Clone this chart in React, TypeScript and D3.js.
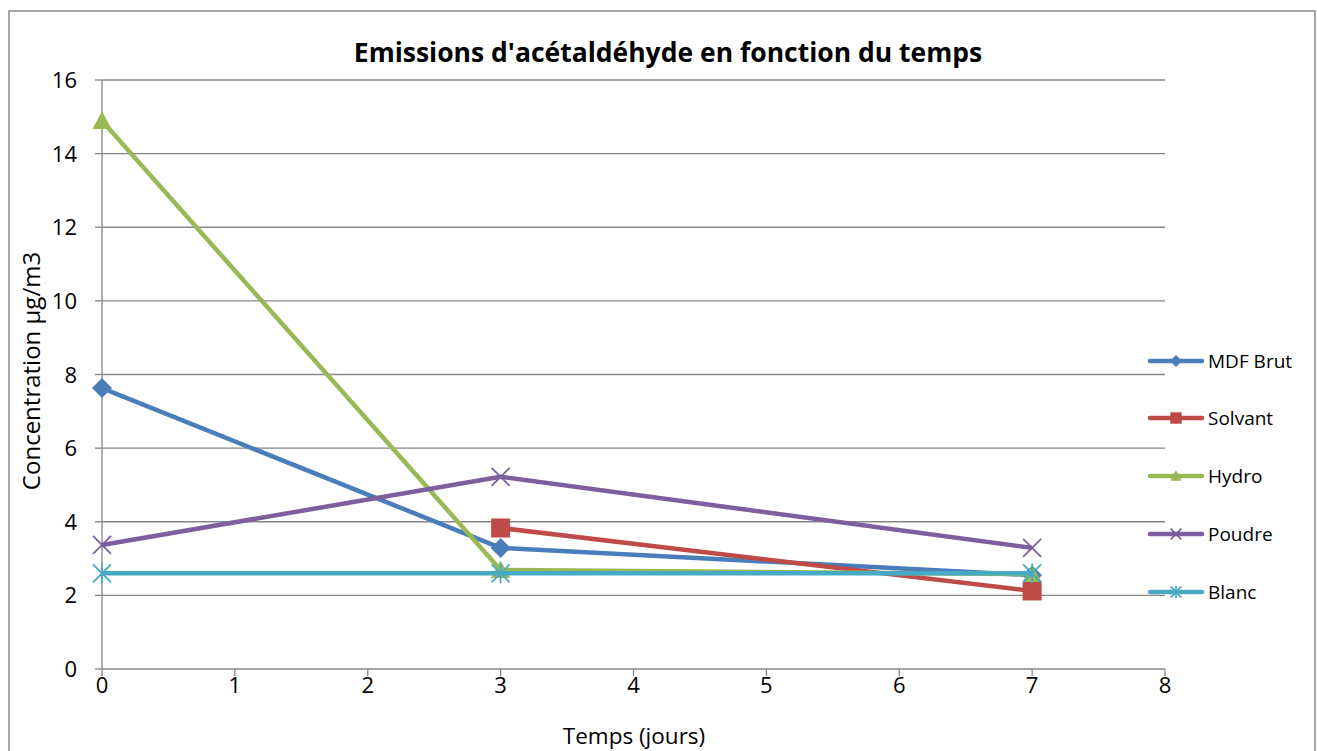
import React from "react";
import * as d3 from "d3";

const days = [0, 3, 7];
const seriesNames = ["MDF Brut", "Solvant", "Hydro", "Poudre", "Blanc"];
const mdfBrut: (number | null)[] = [7.63, 3.29, 2.55];
const solvant: (number | null)[] = [null, 3.83, 2.12];
const hydro: (number | null)[] = [14.89, 2.69, 2.58];
const poudre: (number | null)[] = [3.37, 5.22, 3.29];
const blanc: (number | null)[] = [2.6, 2.6, 2.6];
const xTicks = [0, 1, 2, 3, 4, 5, 6, 7, 8];
const yTicks = [0, 2, 4, 6, 8, 10, 12, 14, 16];

const colors = ["#4a7ebb", "#be4b48", "#98b954", "#7d5fa0", "#46aac5"];
const markers = ["diamond", "square", "triangle", "x", "star"];
const values = [mdfBrut, solvant, hydro, poudre, blanc];

const W = 1317, H = 751;
const FONT = "'Open Sans', 'Liberation Sans', sans-serif";

function Marker({ type, x, y, color, s = 1 }: { type: string; x: number; y: number; color: string; s?: number }) {
  if (type === "diamond") {
    const r = 10 * s;
    return <path d={`M${x},${y - r}L${x + r},${y}L${x},${y + r}L${x - r},${y}Z`} fill={color} />;
  }
  if (type === "square") {
    const r = 9.5 * s;
    return <rect x={x - r} y={y - r} width={2 * r} height={2 * r} fill={color} />;
  }
  if (type === "triangle") {
    const r = 9.5 * s;
    return <path d={`M${x},${y - r}L${x + r},${y + r * 0.85}L${x - r},${y + r * 0.85}Z`} fill={color} />;
  }
  if (type === "x") {
    const r = 9 * s;
    return (
      <path d={`M${x - r},${y - r}L${x + r},${y + r}M${x - r},${y + r}L${x + r},${y - r}`} stroke={color} strokeWidth={1.8} />
    );
  }
  const r = 9 * s;
  return (
    <path
      d={`M${x - r},${y - r}L${x + r},${y + r}M${x - r},${y + r}L${x + r},${y - r}M${x},${y - r * 1.1}L${x},${y + r * 1.1}`}
      stroke={color}
      strokeWidth={1.8}
    />
  );
}

export default function App() {
  const left = 102, right = 1165, top = 80, bottom = 669;
  const x = d3.scaleLinear().domain([0, 8]).range([left, right]);
  const y = d3.scaleLinear().domain([0, 16]).range([bottom, top]);
  const line = d3
    .line<[number, number | null]>()
    .defined((d) => d[1] !== null)
    .x((d) => x(d[0]))
    .y((d) => y(d[1] as number));
  const grid = "#868686";
  const legendY = [361, 418, 476, 534, 592];

  return (
    <svg
      width={W}
      height={H}
      style={{ position: "absolute", left: 0, top: 0, display: "block", background: "#fff" }}
      fontFamily={FONT}
    >
      <rect x={9} y={11} width={1306} height={760} fill="#fff" stroke={grid} strokeWidth={1.5} />
      <text x={668} y={62} textAnchor="middle" fontWeight="bold" fontSize={26.5} fill="#000">
        Emissions d'acétaldéhyde en fonction du temps
      </text>
      {yTicks.map((t) => (
        <g key={"y" + t}>
          {t > 0 && <line x1={left} x2={right} y1={y(t)} y2={y(t)} stroke={grid} strokeWidth={1.3} />}
          <line x1={left - 7} x2={left} y1={y(t)} y2={y(t)} stroke={grid} strokeWidth={1.3} />
          <text x={left - 25} y={y(t) + 8} textAnchor="end" fontSize={22} fill="#000">
            {t}
          </text>
        </g>
      ))}
      <line x1={left} x2={left} y1={top} y2={bottom} stroke={grid} strokeWidth={1.3} />
      <line x1={left} x2={right} y1={bottom} y2={bottom} stroke={grid} strokeWidth={1.3} />
      {xTicks.map((t) => (
        <g key={"x" + t}>
          <line x1={x(t)} x2={x(t)} y1={bottom} y2={bottom + 7} stroke={grid} strokeWidth={1.3} />
          <text x={x(t)} y={bottom + 24} textAnchor="middle" fontSize={22} fill="#000">
            {t}
          </text>
        </g>
      ))}
      <text x={634} y={744} textAnchor="middle" fontSize={22.5} fill="#000">
        Temps (jours)
      </text>
      <text transform="translate(40,371) rotate(-90)" textAnchor="middle" fontSize={24} fill="#000">
        Concentration µg/m3
      </text>
      {values.map((vals, i) => {
        const pts = days.map((d, j) => [d, vals[j]] as [number, number | null]);
        return (
          <g key={"s" + i}>
            <path d={line(pts) || ""} fill="none" stroke={colors[i]} strokeWidth={4.5} strokeLinejoin="round" />
            {pts
              .filter((p) => p[1] !== null)
              .map((p, j) => (
                <Marker key={j} type={markers[i]} x={x(p[0])} y={y(p[1] as number)} color={colors[i]} />
              ))}
          </g>
        );
      })}
      {seriesNames.map((n, i) => (
        <g key={"l" + i}>
          <line x1={1150} x2={1202} y1={legendY[i]} y2={legendY[i]} stroke={colors[i]} strokeWidth={4.5} strokeLinecap="round" />
          <Marker type={markers[i]} x={1176} y={legendY[i]} color={colors[i]} s={0.6} />
          <text x={1208} y={legendY[i] + 7} fontSize={19} fill="#000">
            {n}
          </text>
        </g>
      ))}
    </svg>
  );
}
